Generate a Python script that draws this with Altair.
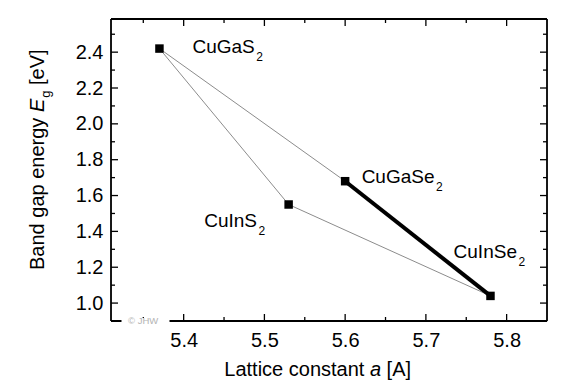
import altair as alt
import pandas as pd

# ---------------- data ----------------
compounds = ["CuGaS2", "CuGaSe2", "CuInS2", "CuInSe2"]
label_main = ["CuGaS", "CuGaSe", "CuInS", "CuInSe"]
label_sub = ["2", "2", "2", "2"]
lattice_constant = [5.37, 5.60, 5.53, 5.78]
band_gap = [2.42, 1.68, 1.55, 1.04]

thin_from = ["CuGaS2", "CuGaS2", "CuInS2", "CuGaSe2"]
thin_to = ["CuGaSe2", "CuInS2", "CuInSe2", "CuInSe2"]
thick_from = ["CuGaSe2"]
thick_to = ["CuInSe2"]

x_major = [5.4, 5.5, 5.6, 5.7, 5.8]
x_minor = [5.35, 5.45, 5.55, 5.65, 5.75]
y_major = [1.0, 1.2, 1.4, 1.6, 1.8, 2.0, 2.2, 2.4]
y_minor = [1.1, 1.3, 1.5, 1.7, 1.9, 2.1, 2.3, 2.5]

x_domain = [5.31, 5.85]
y_domain = [0.9, 2.585]

# ---------------- layout / style ----------------
W, H = 436, 302
FONT = "Liberation Sans"
FS = 20
LFS = 19

# Arial-compatible advance widths (per 1000 em) for measuring text pieces
ADV = {"B": 667, "a": 556, "n": 556, "d": 556, " ": 278, "g": 556, "p": 556, "e": 556,
       "r": 333, "y": 500, "E": 667, "[": 278, "]": 278, "V": 667, "L": 556, "t": 278,
       "i": 222, "c": 500, "o": 556, "s": 500, "A": 667, "C": 722, "u": 556, "G": 778,
       "S": 667, "I": 278}


def tw(s, size):
    return sum(ADV.get(ch, 556) for ch in s) * size / 1000.0


pts = pd.DataFrame({"compound": compounds, "a": lattice_constant, "Eg": band_gap,
                    "main": label_main, "sub": label_sub})
lookup = dict(zip(compounds, zip(lattice_constant, band_gap)))


def seg_df(frm, to):
    rows = []
    for i, (f, t) in enumerate(zip(frm, to)):
        for c in (f, t):
            rows.append({"seg": i, "a": lookup[c][0], "Eg": lookup[c][1]})
    return pd.DataFrame(rows)


thin_df = seg_df(thin_from, thin_to)
thick_df = seg_df(thick_from, thick_to)

xs = alt.Scale(domain=x_domain, nice=False, zero=False)
ys = alt.Scale(domain=y_domain, nice=False, zero=False)
x_axis = alt.Axis(values=x_major, format=".1f", labelFontSize=FS, labelFont=FONT,
                  labelColor="black", ticks=False, tickSize=0, domain=False, grid=False,
                  labelPadding=9, title=None)
y_axis = alt.Axis(values=y_major, format=".1f", labelFontSize=FS, labelFont=FONT,
                  labelColor="black", ticks=False, tickSize=0, domain=False, grid=False,
                  labelPadding=8, title=None)


def X(field):
    return alt.X(field, type="quantitative", scale=xs, axis=x_axis)


def Y(field):
    return alt.Y(field, type="quantitative", scale=ys, axis=y_axis)


one = pd.DataFrame({"k": [0]})
layers = []

# connecting lines
layers.append(alt.Chart(thin_df).mark_line(color="#8c8c8c", strokeWidth=1).encode(
    x=X("a"), y=Y("Eg"), detail="seg:N"))
layers.append(alt.Chart(thick_df).mark_line(color="black", strokeWidth=4).encode(
    x=X("a"), y=Y("Eg"), detail="seg:N"))
# markers
layers.append(alt.Chart(pts).mark_square(color="black", opacity=1, size=72).encode(
    x=X("a"), y=Y("Eg")))

# compound labels (main text + subscript)
offsets = {"CuGaS2": (33, 4.6), "CuGaSe2": (16.5, 1.3),
           "CuInS2": (-84.4, 22.8), "CuInSe2": (-36.9, -37.8)}
for c, m in zip(compounds, label_main):
    dx, dy = offsets[c]
    base = alt.Chart(pts).transform_filter(alt.datum.compound == c)
    layers.append(base.mark_text(align="left", baseline="alphabetic", font=FONT,
                                 fontSize=LFS, color="black", dx=dx, dy=dy).encode(
        x=X("a"), y=Y("Eg"), text="main:N"))
    layers.append(base.mark_text(align="left", baseline="alphabetic", font=FONT,
                                 fontSize=12, color="black",
                                 dx=dx + tw(m, LFS) + 1.5, dy=dy + 8).encode(
        x=X("a"), y=Y("Eg"), text="sub:N"))

# inward ticks on all four sides
xmaj = pd.DataFrame({"v": x_major})
xmin = pd.DataFrame({"v": x_minor})
ymaj = pd.DataFrame({"v": y_major})
ymin = pd.DataFrame({"v": y_minor})
TK = dict(color="black", strokeWidth=1.3)
for df, L in ((xmaj, 7), (xmin, 4)):
    layers.append(alt.Chart(df).mark_rule(**TK).encode(
        x=X("v"), y=alt.value(H), y2=alt.value(H - L)))
    layers.append(alt.Chart(df).mark_rule(**TK).encode(
        x=X("v"), y=alt.value(0), y2=alt.value(L)))
for df, L in ((ymaj, 7), (ymin, 4)):
    layers.append(alt.Chart(df).mark_rule(**TK).encode(
        y=Y("v"), x=alt.value(0), x2=alt.value(L)))
    layers.append(alt.Chart(df).mark_rule(**TK).encode(
        y=Y("v"), x=alt.value(W), x2=alt.value(W - L)))

# frame
FR = dict(color="black", strokeWidth=1.8)
layers.append(alt.Chart(one).mark_rule(**FR).encode(x=alt.value(0), x2=alt.value(W), y=alt.value(H)))
layers.append(alt.Chart(one).mark_rule(**FR).encode(x=alt.value(0), x2=alt.value(W), y=alt.value(0)))
layers.append(alt.Chart(one).mark_rule(**FR).encode(y=alt.value(0), y2=alt.value(H), x=alt.value(0)))
layers.append(alt.Chart(one).mark_rule(**FR).encode(y=alt.value(0), y2=alt.value(H), x=alt.value(W)))

# copyright notice over the bottom frame
layers.append(alt.Chart(one).mark_rect(color="white").encode(
    x=alt.value(10.5), x2=alt.value(58.5), y=alt.value(H - 3), y2=alt.value(H + 3)))
layers.append(alt.Chart(one).mark_text(text="© JHW", align="left", baseline="middle",
                                       font=FONT, fontSize=9.5, color="#b4b4b4").encode(
    x=alt.value(17), y=alt.value(H)))

# y-axis title: "Band gap energy E_g [eV]" (rotated)
yx, y0 = -67, 251
p1 = "Band gap energy"
y_E = y0 - tw(p1 + " ", FS)
y_g = y_E - tw("E", FS) - 1
y_br = y_g - tw("g", 13) - tw(" ", FS)
for txt, yy, xx, fs, style in ((p1, y0, yx, FS, "normal"), ("E", y_E, yx, FS, "italic"),
                               ("g", y_g, yx + 6, 13, "normal"), ("[eV]", y_br, yx, FS, "normal")):
    layers.append(alt.Chart(one).mark_text(text=txt, angle=270, align="left",
                                           baseline="alphabetic", font=FONT, fontSize=fs,
                                           fontStyle=style, color="black").encode(
        x=alt.value(xx), y=alt.value(yy)))

# x-axis title: "Lattice constant a [A]"
tx0, ty = 113.3, 357
q1 = "Lattice constant"
x_a = tx0 + tw(q1 + " ", FS)
x_br = x_a + tw("a", FS) + tw(" ", FS)
for txt, xx, style in ((q1, tx0, "normal"), ("a", x_a, "italic"), ("[A]", x_br, "normal")):
    layers.append(alt.Chart(one).mark_text(text=txt, align="left", baseline="alphabetic",
                                           font=FONT, fontSize=FS, fontStyle=style,
                                           color="black").encode(
        x=alt.value(xx), y=alt.value(ty)))

chart = alt.layer(*layers).properties(
    width=W, height=H,
    autosize=alt.AutoSizeParams(type="none"),
    padding={"left": 103, "top": 11, "right": 11, "bottom": 59},
).configure_view(stroke=None).configure(background="white")

chart.save("out.html", embed_options={"renderer": "svg", "actions": False})
